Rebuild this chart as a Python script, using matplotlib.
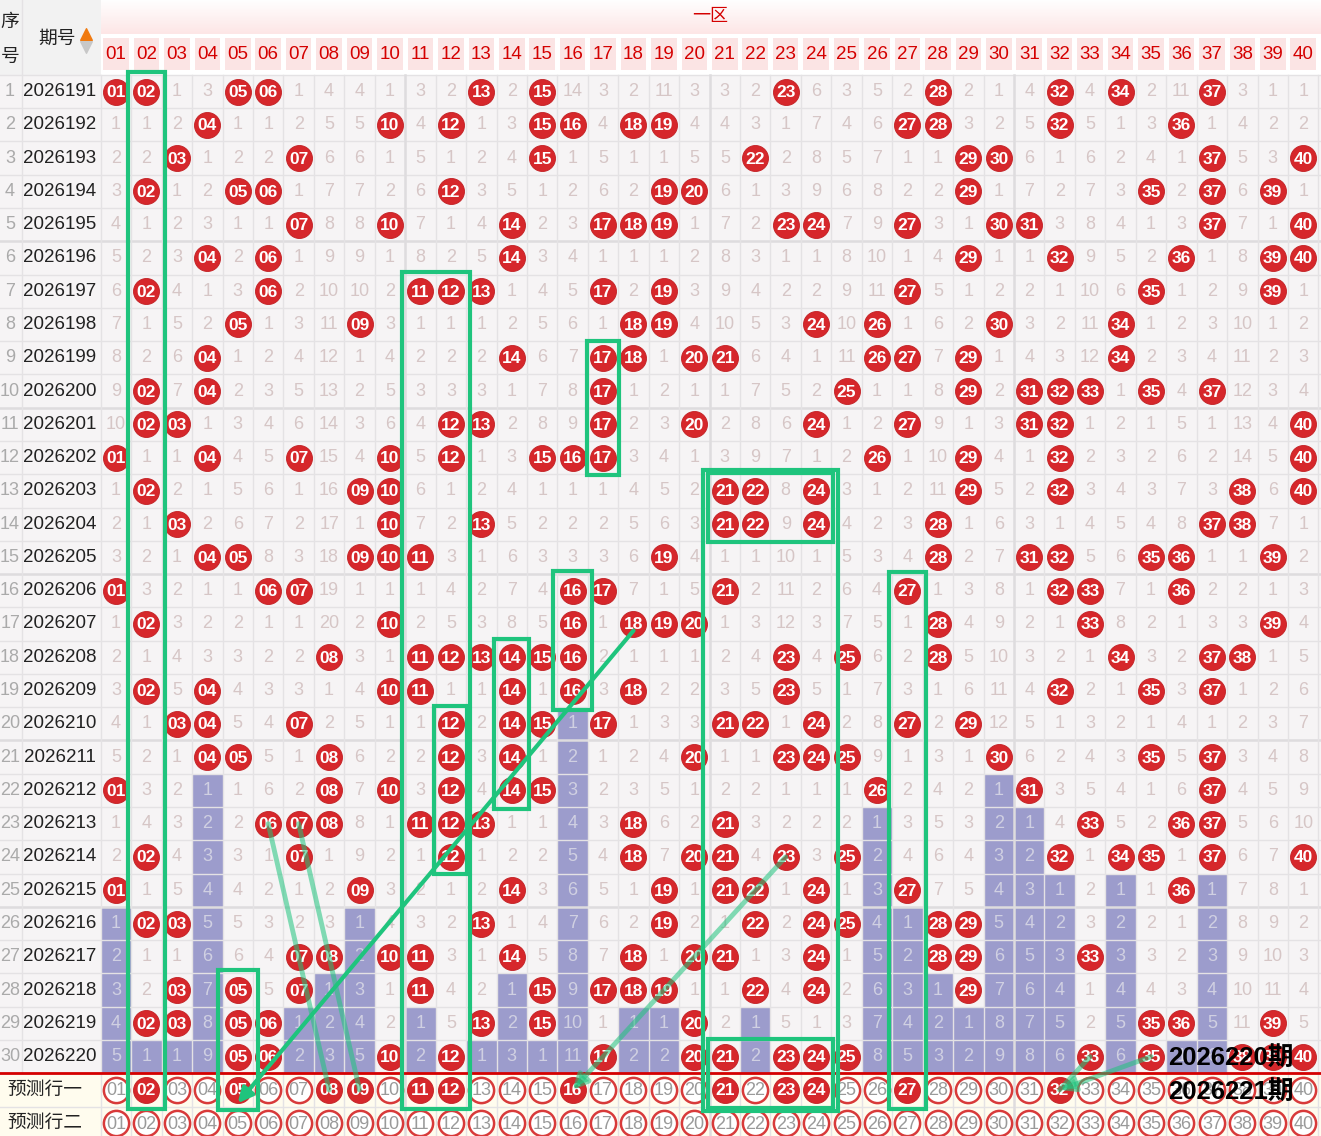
import matplotlib
matplotlib.use('Agg')
import matplotlib.pyplot as plt
import numpy as np
from matplotlib.patches import Rectangle

plt.rcParams['font.family'] = ['Liberation Sans', 'Noto Sans CJK SC', 'DejaVu Sans']

# ---- data ----
numbers = list(range(1, 41))
issues = list(range(2026191, 2026221))

# miss values shown on the first row (0 = drawn)
first_row_miss = [0, 0, 1, 3, 0, 0, 1, 4, 4, 1, 3, 2, 0, 2, 0, 14, 3, 2, 11, 3,
                  3, 2, 0, 6, 3, 5, 2, 0, 2, 1, 4, 0, 4, 0, 2, 11, 0, 3, 1, 1]

hits = [
    [1, 2, 5, 6, 13, 15, 23, 28, 32, 34, 37],
    [4, 10, 12, 15, 16, 18, 19, 27, 28, 32, 36],
    [3, 7, 15, 22, 29, 30, 37, 40],
    [2, 5, 6, 12, 19, 20, 29, 35, 37, 39],
    [7, 10, 14, 17, 18, 19, 23, 24, 27, 30, 31, 37, 40],
    [4, 6, 14, 29, 32, 36, 39, 40],
    [2, 6, 11, 12, 13, 17, 19, 27, 35, 39],
    [5, 9, 18, 19, 24, 26, 30, 34],
    [4, 14, 17, 18, 20, 21, 26, 27, 29, 34],
    [2, 4, 17, 25, 29, 31, 32, 33, 35, 37],
    [2, 3, 12, 13, 17, 20, 24, 27, 31, 32, 40],
    [1, 4, 7, 10, 12, 15, 16, 17, 26, 29, 32, 40],
    [2, 9, 10, 21, 22, 24, 29, 32, 38, 40],
    [3, 10, 13, 21, 22, 24, 28, 37, 38],
    [4, 5, 9, 10, 11, 19, 28, 31, 32, 35, 36, 39],
    [1, 6, 7, 16, 17, 21, 27, 32, 33, 36],
    [2, 10, 16, 18, 19, 20, 28, 33, 39],
    [8, 11, 12, 13, 14, 15, 16, 23, 25, 28, 34, 37, 38],
    [2, 4, 10, 11, 14, 16, 18, 23, 32, 35, 37],
    [3, 4, 7, 12, 14, 15, 17, 21, 22, 24, 27, 29],
    [4, 5, 8, 12, 14, 20, 23, 24, 25, 30, 35, 37],
    [1, 8, 10, 12, 14, 15, 26, 31, 37],
    [6, 7, 8, 11, 12, 13, 18, 21, 33, 36, 37],
    [2, 7, 12, 18, 20, 21, 23, 25, 32, 34, 35, 37, 40],
    [1, 9, 14, 19, 21, 22, 24, 27, 36],
    [2, 3, 13, 19, 22, 24, 25, 28, 29],
    [7, 8, 10, 11, 14, 18, 20, 21, 24, 28, 29, 33],
    [3, 5, 7, 11, 15, 17, 18, 19, 22, 24, 29],
    [2, 3, 5, 6, 13, 15, 20, 35, 36, 39],
    [5, 6, 10, 12, 17, 20, 21, 23, 24, 25, 33, 35, 38, 39, 40],
]

pred_one = [2, 5, 8, 9, 11, 12, 16, 21, 23, 24, 27, 32]
pred_labels = ['预测行一', '预测行二']

# green boxes: (first col, last col, first row, last row, pad)
boxes = [
    (2, 2, 1, 31, 0.12), (11, 12, 7, 31, 0.12), (17, 17, 9, 12, 0.02),
    (21, 24, 13, 14, 0.05), (21, 24, 13, 31, 0.22), (21, 24, 30, 31, 0.05),
    (16, 16, 16, 19, 0.14), (14, 14, 18, 22, 0.08), (12, 12, 20, 24, 0.04),
    (5, 5, 28, 31, 0.16), (27, 27, 16, 31, 0.12),
]
# green links: (col, row) -> (col, row), strong?, arrow?
links = [
    ((18, 17.2), (5, 31.4), True, True),
    ((6, 23), (8, 31), False, False),
    ((7, 23), (9, 31), False, False),
    ((23, 24), (16, 31), False, True),
    ((33, 30), (32, 31), False, False),
    ((35, 30), (32, 31), False, True),
]
notes = ['2026220期', '2026221期']

# ---- colours ----
RED = '#d6272b'
GREEN = '#1fc47d'
PURPLE = '#9c9ccc'
CELL = '#f6f4f5'
GRID = '#e4e2e4'
MISS = '#d6c6c6'

# miss table
miss = np.zeros((30, 40), dtype=int)
for i, row in enumerate(hits):
    for j, n in enumerate(numbers):
        if n in row:
            miss[i, j] = 0
        elif i == 0:
            miss[i, j] = first_row_miss[j]
        else:
            miss[i, j] = miss[i - 1, j] + 1
last_hit = [max(i for i in range(30) if numbers[j] in hits[i]) for j in range(40)]

fig = plt.figure(figsize=(13.21, 11.36), dpi=100)
ax = fig.add_axes([0, 0, 1, 1])
X0, X1, Y0, Y1 = -2.811, 40.585, -1.75, 32.385
ax.set_xlim(X0, X1)
ax.set_ylim(Y1, Y0)
ax.axis('off')

# backgrounds
ax.add_patch(Rectangle((X0, Y0), X1 - X0, Y1 - Y0, fc='white', ec='none', zorder=0))
grad = np.linspace(0, 1, 50).reshape(-1, 1)
ax.imshow(grad, extent=(0.5, X1, -0.72, Y0), cmap=matplotlib.colors.LinearSegmentedColormap.from_list(
    'hd', ['#ffffff', '#fde6e6']), aspect='auto', zorder=0.5)
ax.add_patch(Rectangle((X0, Y0), 0.5 - X0, 0.5 - Y0, fc='#f2f2f2', ec='none', zorder=0.6))
ax.add_patch(Rectangle((X0, 0.5), X1 - X0, 30, fc=CELL, ec='none', zorder=0.6))
ax.add_patch(Rectangle((X0, 30.5), X1 - X0, Y1 - 30.5, fc='#fffcee', ec='none', zorder=0.6))
for j, n in enumerate(numbers):
    ax.add_patch(Rectangle((n - 0.42, -0.62), 0.84, 0.98, fc='#fbe4e4', ec='none', zorder=1))
    ax.text(n, -0.11, f'{n:02d}', ha='center', va='center', fontsize=13.5, color='#d40000', zorder=2)
ax.text(20.53, -1.25, '一区', ha='center', va='center', fontsize=13, color='#d40000', zorder=2)

# header left
ax.text(-2.48, -1.07, '序', ha='center', va='center', fontsize=13.5, color='#222222')
ax.text(-2.48, -0.02, '号', ha='center', va='center', fontsize=13.5, color='#222222')
ax.text(-0.95, -0.56, '期号', ha='center', va='center', fontsize=13.5, color='#222222')
ax.scatter([0.02], [-0.74], marker='^', s=70, color='#f07a10', zorder=3)
ax.scatter([0.02], [-0.34], marker='v', s=70, color='#c8c8c8', zorder=3)

# purple tails
for j, n in enumerate(numbers):
    for i in range(last_hit[j] + 1, 30):
        ax.add_patch(Rectangle((n - 0.5, i + 0.5), 1, 1, fc=PURPLE, ec='none', zorder=1))

# grid
for k in range(0, 33):
    y = k + 0.5
    if y > Y1:
        break
    heavy = k in (5, 10, 15, 20, 25)
    ax.plot([X0, X1], [y, y], color='#dedcde' if heavy else GRID, lw=1.8 if heavy else 1, zorder=1.5)
for k in range(0, 41):
    x = k + 0.5
    heavy = k in (10, 20, 30)
    ax.plot([x, x], [0.5, Y1], color='#dedcde' if heavy else GRID, lw=1.8 if heavy else 1, zorder=1.5)
ax.plot([-2.088, -2.088], [Y0, 30.5], color=GRID, lw=1, zorder=1.5)
ax.plot([X0, X1], [30.5, 30.5], color='#d40000', lw=2, zorder=2)

# rows
hx, hy = [], []
for i, row in enumerate(hits):
    r = i + 1
    ax.text(-2.48, r, str(r), ha='center', va='center', fontsize=13, color='#aaaaaa', zorder=3)
    ax.text(-0.84, r, str(issues[i]), ha='center', va='center', fontsize=13.5, color='#222222', zorder=3)
    for j, n in enumerate(numbers):
        if n in row:
            hx.append(n)
            hy.append(r)
        else:
            col = '#d0d0e2' if i > last_hit[j] else MISS
            ax.text(n, r, str(miss[i, j]), ha='center', va='center', fontsize=13, color=col, zorder=3)
ax.scatter(hx, hy, s=350, color=RED, edgecolors='#c21f23', linewidths=0.6, zorder=4)
for x, y in zip(hx, hy):
    ax.text(x, y + 0.03, f'{x:02d}', ha='center', va='center', fontsize=12.5, fontweight='bold',
            color='white', zorder=5)

# prediction rows
for k, lab in enumerate(pred_labels):
    r = 31 + k
    ax.text(-1.35, r, lab, ha='center', va='center', fontsize=13.5, color='#222222', zorder=3)
    chosen = pred_one if k == 0 else []
    ox = [n for n in numbers if n not in chosen]
    ax.scatter(ox, [r] * len(ox), s=330, facecolor='white', edgecolors='#d83a3a', linewidths=1.8, zorder=4)
    for n in ox:
        ax.text(n, r + 0.03, f'{n:02d}', ha='center', va='center', fontsize=13, color='#9a9a9a', zorder=5)
    if chosen:
        ax.scatter(chosen, [r] * len(chosen), s=350, color=RED, edgecolors='#c21f23', linewidths=0.6, zorder=4)
        for n in chosen:
            ax.text(n, r + 0.03, f'{n:02d}', ha='center', va='center', fontsize=12.5, fontweight='bold',
                    color='white', zorder=5)

# green annotations
for c0, c1, r0, r1, pad in boxes:
    ax.add_patch(Rectangle((c0 - 0.5 - pad, r0 - 0.5 - pad * 0.6), c1 - c0 + 1 + 2 * pad,
                           r1 - r0 + 1 + 1.2 * pad, fill=False, ec=GREEN, lw=3, zorder=6))
for (x0, y0), (x1, y1), strong, arrow in links:
    alpha = 1.0 if strong else 0.55
    ax.annotate('', xy=(x1, y1), xytext=(x0, y0),
                arrowprops=dict(arrowstyle='-|>' if arrow else '-', color=GREEN, lw=3 if strong else 3.5,
                                alpha=alpha, mutation_scale=22, shrinkA=0, shrinkB=0), zorder=6)

for k, t in enumerate(notes):
    ax.text(35.55, 30.05 + k, t, ha='left', va='center', fontsize=18.5, fontweight='bold',
            color='black', zorder=8)

fig.savefig('out.png', dpi=100)
